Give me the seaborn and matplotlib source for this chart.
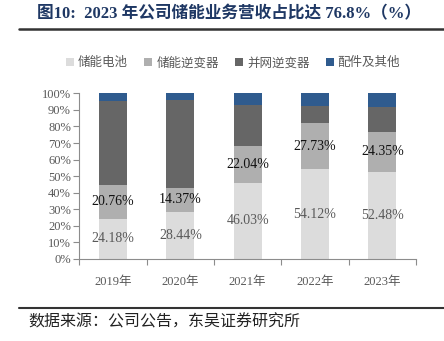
import matplotlib
matplotlib.use("Agg")
import matplotlib.pyplot as plt
import seaborn as sns
import pandas as pd
import numpy as np
from matplotlib.patches import Patch

sns.set_theme(style="white")
plt.rcParams['font.family'] = ['Liberation Serif', 'Noto Sans CJK SC', 'DejaVu Sans']

years = ["2019年", "2020年", "2021年", "2022年", "2023年"]
series_names = ["储能电池", "储能逆变器", "并网逆变器", "配件及其他"]
battery = [24.18, 28.44, 46.03, 54.12, 52.48]
storage_inv = [20.76, 14.37, 22.04, 27.73, 24.35]
grid_inv = [50.6, 53.2, 24.9, 10.3, 14.9]
others = [4.46, 3.99, 7.03, 7.85, 8.27]
colors = ["#dcdcdc", "#afafaf", "#666666", "#2f5b8e"]

title = "图10:  2023 年公司储能业务营收占比达 76.8%（%）"
source = "数据来源：公司公告，东吴证券研究所"

df = pd.DataFrame({"year": years, series_names[0]: battery, series_names[1]: storage_inv,
                   series_names[2]: grid_inv, series_names[3]: others})
cum = df[series_names].cumsum(axis=1)

fig = plt.figure(figsize=(4.44, 3.41), dpi=100)
ax = fig.add_axes([0.1786, 0.2405, 0.7584, 0.4859])

for name, col in reversed(list(zip(series_names, colors))):
    d = pd.DataFrame({"year": years, "v": cum[name].values})
    sns.barplot(data=d, x="year", y="v", color=col, width=0.42, ax=ax,
                saturation=1, edgecolor="none", linewidth=0)

# data labels
for i in range(len(years)):
    ax.text(i, battery[i] / 2, f"{battery[i]:.2f}%", ha="center", va="center",
            fontsize=10, color="#595959")
    ax.text(i, battery[i] + storage_inv[i] / 2, f"{storage_inv[i]:.2f}%", ha="center",
            va="center", fontsize=10, color="#111111")

ax.set_ylim(0, 100)
ax.set_xlim(-0.5, 4.5)
ax.set_yticks(np.arange(0, 101, 10))
ax.set_yticklabels([f"{v}%" for v in range(0, 101, 10)])
ax.set_xlabel("")
ax.set_ylabel("")
for s in ["top", "right"]:
    ax.spines[s].set_visible(False)
for s in ["left", "bottom"]:
    ax.spines[s].set_color("#8c8c8c")
    ax.spines[s].set_linewidth(0.8)
ax.tick_params(axis="y", which="major", left=True, length=4, width=0.8, color="#8c8c8c",
               labelsize=9, labelcolor="#595959", pad=2)
ax.tick_params(axis="x", which="major", bottom=False, labelsize=9, labelcolor="#595959", pad=6)
ax.set_xticks(np.arange(-0.5, 5, 1), minor=True)
ax.tick_params(axis="x", which="minor", bottom=True, length=4, width=0.8, color="#8c8c8c")

# legend
handles = [Patch(facecolor=c, edgecolor="none") for c in colors]
fig.legend(handles, series_names, loc="center", bbox_to_anchor=(0.525, 0.815), ncol=4,
           frameon=False, fontsize=9, labelcolor="#595959", handlelength=0.65,
           handleheight=0.65, handletextpad=0.3, columnspacing=1.3)

# title and rules
fig.text(0.515, 0.957, title, ha="center", va="center", fontsize=12, fontweight="bold",
         color="#1f3864")
fig.add_artist(plt.Line2D([0.043, 1.0], [0.915, 0.915], color="#333333", linewidth=1.8))
fig.add_artist(plt.Line2D([0.043, 1.0], [0.098, 0.098], color="#333333", linewidth=1.5))
fig.text(0.063, 0.055, source, ha="left", va="center", fontsize=11.5, color="#222222")

fig.savefig("out.png", dpi=100)
